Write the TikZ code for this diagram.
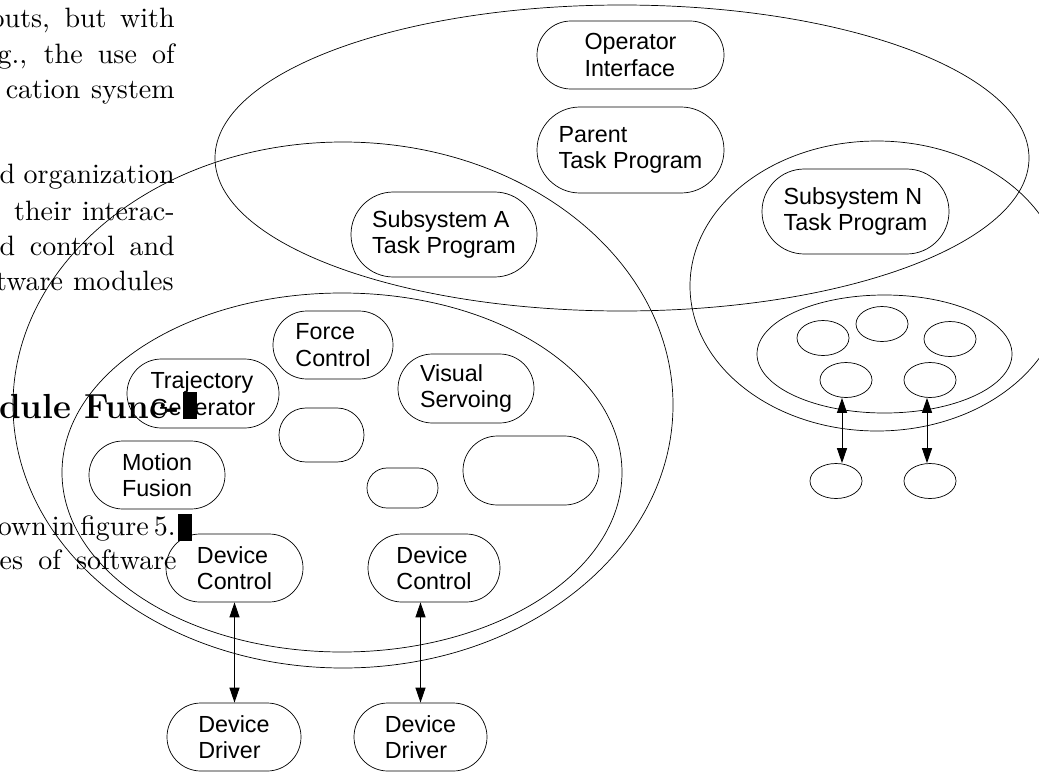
\documentclass[tikz,border=0pt]{standalone}
\usepackage{fontspec}
\usepackage{graphicx}
\newfontfamily\lab{Liberation Sans}
\usetikzlibrary{shapes.geometric,arrows.meta}
\tikzset{
  pill/.style={draw, rectangle, inner sep=0pt, align=left,
    font=\lab\fontsize{23.3}{26.5}\selectfont},
  oval/.style={draw, ellipse, inner sep=0pt},
  small/.style={oval, minimum width=52pt, minimum height=35pt},
  paper/.style={anchor=base east, inner sep=0pt},
  link/.style={<->, line width=1pt},
}
\newcommand{\pap}[1]{\scalebox{2.8}{\fontsize{10}{12}\selectfont #1}}
\newcommand{\papw}[2]{\scalebox{2.8}{\fontsize{10}{12}\selectfont\makebox[#1][s]{#2}}}
\newcommand{\paphd}[1]{\scalebox{2.9}{\fontsize{12}{14}\selectfont\bfseries #1}}
\begin{document}
\begin{tikzpicture}[x=1pt, y=-1pt, line width=0.7pt,
  >={Triangle[length=15pt,width=10pt]}]
\path[use as bounding box] (0,0) rectangle (1039,774);
\clip (0,0) rectangle (1039,774);

% background page text
\node[paper] (p1) at (175,27) {\papw{65.7pt}{outs, but with}};
\node[paper] (p2) at (175,63) {\papw{63.2pt}{g., the use of}};
\node[paper] (p3) at (175,98) {\papw{60.3pt}{cation system}};
\node[paper] (p4) at (175,183) {\papw{62.5pt}{d organization}};
\node[paper] (p5) at (175,220) {\papw{57.3pt}{their interac-}};
\node[paper] (p6) at (175,255) {\papw{62.5pt}{d control and}};
\node[paper] (p7) at (174,290) {\papw{63.4pt}{tware modules}};
\node[paper] (p8) at (180,418) {\paphd{dule Func-}};
\fill (183,392) rectangle (197,419);
\node[paper] (p9) at (176,535) {\pap{own\hspace{1.8pt}in\hspace{1.8pt}figure\hspace{1.8pt}5.}};
\fill (178,514) rectangle (192,541);
\node[paper] (p10) at (177,569) {\papw{63.2pt}{es of software}};

% large containers
\node[oval, minimum width=814pt, minimum height=306pt] (top) at (622,158) {};
\node[oval, minimum width=660pt, minimum height=526pt] (sysA) at (343,405) {};
\node[oval, minimum width=560pt, minimum height=359pt] (modA) at (342,472.5) {};
\node[oval, minimum width=374pt, minimum height=290pt] (sysN) at (877,286) {};
\node[oval, minimum width=255pt, minimum height=118pt] (modN) at (884.5,354) {};

% boxes
\node[pill, minimum width=187pt, minimum height=68pt, rounded corners=33.9pt] (op) at (630.5,55) {Operator\\Interface};
\node[pill, minimum width=187pt, minimum height=86pt, rounded corners=42.9pt] (par) at (630.5,150) {Parent\\Task Program};
\node[pill, minimum width=186pt, minimum height=85pt, rounded corners=42.4pt] (suba) at (444,234.5) {Subsystem A\\Task Program};
\node[pill, minimum width=187pt, minimum height=85pt, rounded corners=42.4pt] (subn) at (855.5,211.5) {Subsystem N\\Task Program};
\node[pill, minimum width=120pt, minimum height=68pt, rounded corners=33.9pt] (force) at (333,345) {Force\\Control};
\node[pill, minimum width=136pt, minimum height=69pt, rounded corners=34.4pt] (visual) at (466,388.5) {Visual\\Servoing};
\node[pill, minimum width=152pt, minimum height=69pt, rounded corners=34.4pt] (traj) at (203,393.5) {Trajectory\\Generator};
\node[pill, minimum width=136pt, minimum height=68pt, rounded corners=33.9pt] (motion) at (157,475) {Motion\\Fusion};
\node[pill, minimum width=85pt, minimum height=54pt, rounded corners=26.9pt] (b1) at (321.5,435) {};
\node[pill, minimum width=71pt, minimum height=40pt, rounded corners=19.9pt] (b2) at (402.5,488) {};
\node[pill, minimum width=136pt, minimum height=69pt, rounded corners=34.4pt] (b3) at (531,470.5) {};
\node[pill, minimum width=137pt, minimum height=68pt, rounded corners=33.9pt] (dc1) at (234.5,568) {Device\\Control};
\node[pill, minimum width=132pt, minimum height=68pt, rounded corners=33.9pt] (dc2) at (434,568) {Device\\Control};
\node[pill, minimum width=134pt, minimum height=68pt, rounded corners=33.9pt] (dd1) at (234,737) {Device\\Driver};
\node[pill, minimum width=133pt, minimum height=68pt, rounded corners=33.9pt] (dd2) at (420.5,737) {Device\\Driver};

% subsystem N modules
\node[small] (e1) at (823,338) {};
\node[small] (e2) at (882,324) {};
\node[small] (e3) at (950,339) {};
\node[small] (e4) at (846,380) {};
\node[small] (e5) at (930,380) {};
\node[small] (e6) at (836,481) {};
\node[small] (e7) at (930,481) {};

% connectors
\draw[link] (dc1.south) -- (dc1.south |- dd1.north);
\draw[link] (dd2.north |- dc2.south) -- (dd2.north);
\draw[link] ([xshift=-4pt]e4.south) -- ([xshift=-4pt]e4.south |- e6.north);
\draw[link] ([xshift=-3pt]e5.south) -- ([xshift=-3pt]e5.south |- e7.north);
\end{tikzpicture}
\end{document}
